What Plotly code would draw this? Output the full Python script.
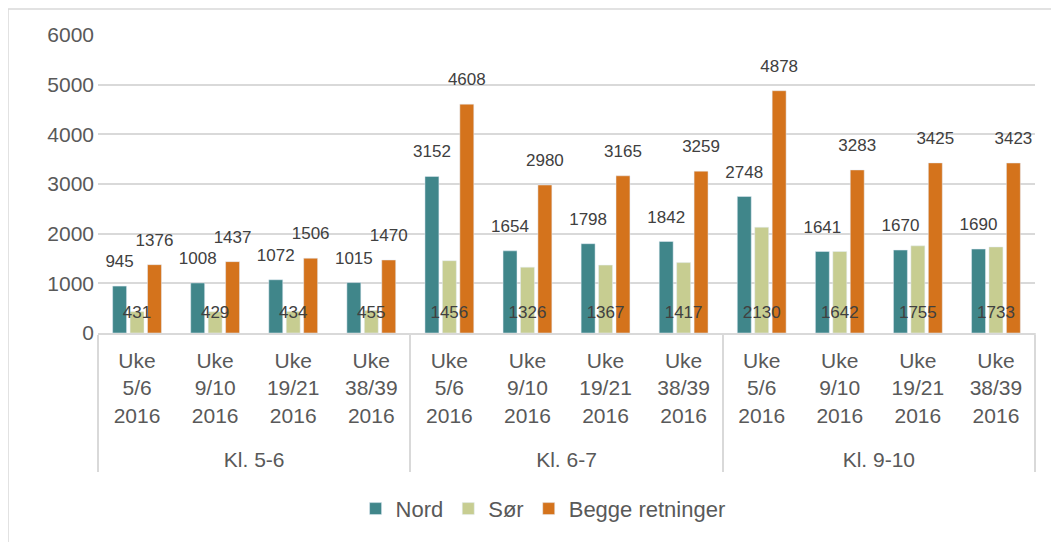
import plotly.graph_objects as go

groups = ["Kl. 5-6", "Kl. 6-7", "Kl. 9-10"]
weeks = ["Uke<br>5/6<br>2016<br> ", "Uke<br>9/10<br>2016<br> ", "Uke<br>19/21<br>2016<br> ", "Uke<br>38/39<br>2016<br> "]

nord = [945, 1008, 1072, 1015, 3152, 1654, 1798, 1842, 2748, 1641, 1670, 1690]
sor = [431, 429, 434, 455, 1456, 1326, 1367, 1417, 2130, 1642, 1755, 1733]
begge = [1376, 1437, 1506, 1470, 4608, 2980, 3165, 3259, 4878, 3283, 3425, 3423]

series = [
    ("Nord", nord, "#40868A", "top"),
    ("Sør", sor, "#C7CD91", "base"),
    ("Begge retninger", begge, "#D4731C", "top"),
]

x = [[g for g in groups for _ in weeks], [w for _ in groups for w in weeks]]

FONT = "Liberation Sans, Arial, sans-serif"
GRID = "#D9D9D9"

fig = go.Figure()
for i, (name, vals, color, where) in enumerate(series):
    fig.add_trace(go.Bar(
        x=x, y=vals, name=name, marker_color=color,
        offsetgroup=str(i), hoverinfo="skip",
    ))
# data labels: above the bar for Nord / Begge, at the base for Sør
for i, (name, vals, color, where) in enumerate(series):
    ys = vals if where == "top" else [0] * len(vals)
    fig.add_trace(go.Scatter(
        x=x, y=ys, mode="markers+text", text=[str(v) for v in vals],
        textposition="top center", offsetgroup=str(i),
        marker=dict(size=22 if where == "top" else 16, opacity=0),
        textfont=dict(size=17, color="#404040", family=FONT),
        showlegend=False, hoverinfo="skip", cliponaxis=False,
    ))

# page body has an 8px margin, so the figure is a bit smaller than the window
fig.update_layout(
    width=1051, height=534,
    margin=dict(l=90, r=24, t=27, b=209),
    plot_bgcolor="white", paper_bgcolor="white",
    barmode="group", bargap=0.33, bargroupgap=0.2,
    scattermode="group", scattergap=0.33,
    font=dict(family=FONT, color="#595959", size=21),
    legend=dict(orientation="h", x=0.475, xanchor="center", y=-0.59, yanchor="middle",
                font=dict(size=22, color="#595959"), itemwidth=30),
    shapes=[
        dict(type="rect", xref="paper", yref="paper",
             x0=-90 / 937, x1=1.2, y0=-1, y1=1 + 26 / 298,
             line=dict(color=GRID, width=1.5), layer="below"),
        dict(type="line", xref="paper", yref="paper", x0=1, x1=1,
             y0=0, y1=(333 - 470) / 298, line=dict(color=GRID, width=1.5)),
    ],
)
fig.update_yaxes(range=[0, 6000], dtick=1000, showgrid=True, gridcolor=GRID, gridwidth=1.5,
                 zeroline=False, tickfont=dict(size=21, color="#595959"), ticklen=0,
                 ticklabelstandoff=3)
fig.update_xaxes(showline=True, linecolor=GRID, linewidth=1.5, showdividers=True,
                 dividercolor=GRID, dividerwidth=1.5, tickfont=dict(size=21, color="#595959"),
                 ticklabelstandoff=8)

fig.write_html("out.html")
